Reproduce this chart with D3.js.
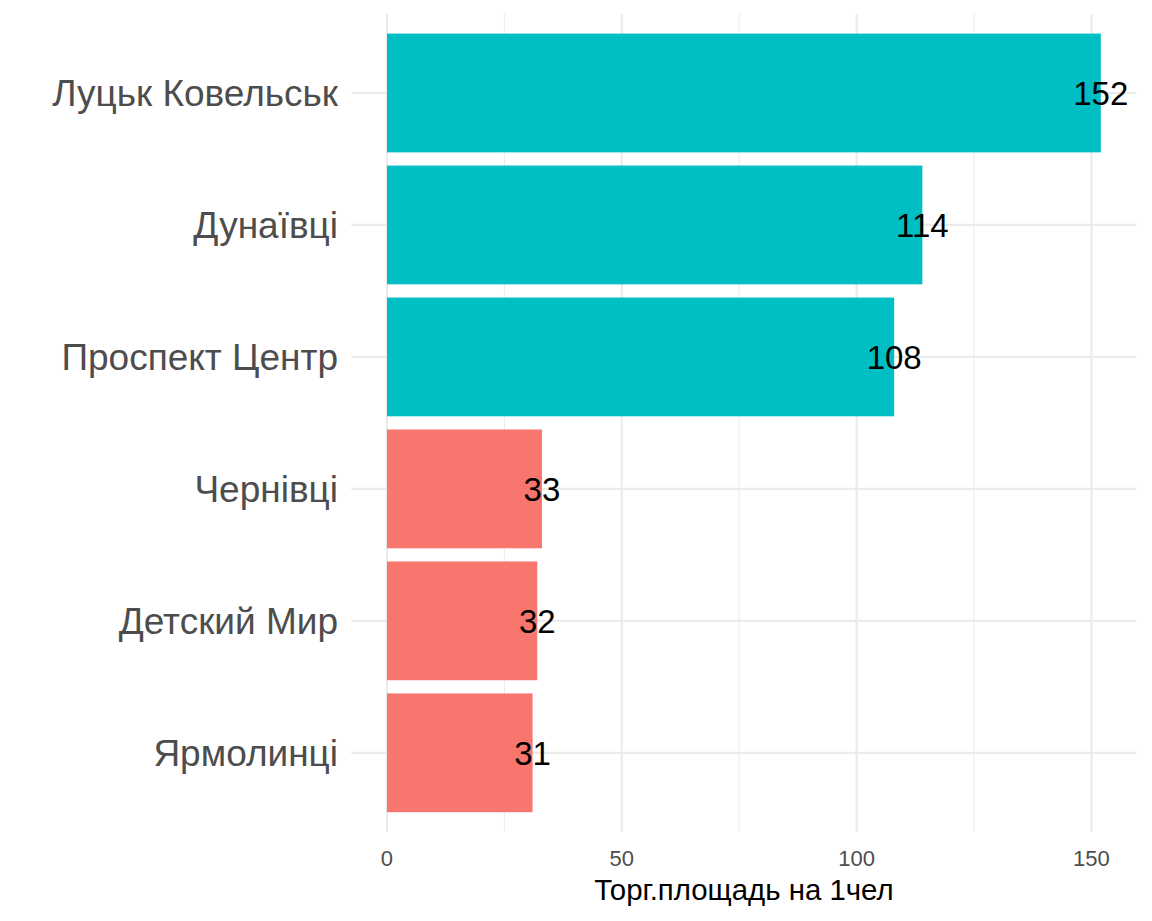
<!DOCTYPE html>
<html><head><meta charset="utf-8">
<script src="https://cdn.jsdelivr.net/npm/d3@7"></script>
<style>body{margin:0;background:#fff}svg{display:block}</style>
</head><body>
<script>
const categories = ["Луцьк Ковельськ","Дунаївці","Проспект Центр","Чернівці","Детский Мир","Ярмолинці"];
const values = [152,114,108,33,32,31];
const groups = ["high","high","high","low","low","low"];
const groupColors = {high:"#00BFC4", low:"#F8766D"};
const xTicks = [0,50,100,150];
const xMinor = [25,75,125];
const xTitle = "Торг.площадь на 1чел";

(function(){
const W=1152,H=921;
const pL=351.3, pR=1136.5, pT=13.8, pB=832;
const svg=d3.select("body").append("svg").attr("width",W).attr("height",H);
const font="'Liberation Sans', Arial, sans-serif";

const x=d3.scaleLinear().domain([-7.6,159.6]).range([pL,pR]);
const y=d3.scaleBand().domain(categories).range([pT,pB]).paddingInner(0.1).paddingOuter(0.15);
const yc=d=>y(d)+y.bandwidth()/2;

const g=svg.append("g");
g.selectAll(".minor").data(xMinor).enter().append("line")
 .attr("x1",d=>x(d)).attr("x2",d=>x(d)).attr("y1",pT).attr("y2",pB)
 .attr("stroke","#EBEBEB").attr("stroke-width",1.1);
g.selectAll(".major").data(xTicks).enter().append("line")
 .attr("x1",d=>x(d)).attr("x2",d=>x(d)).attr("y1",pT).attr("y2",pB)
 .attr("stroke","#EBEBEB").attr("stroke-width",2.2);
g.selectAll(".hg").data(categories).enter().append("line")
 .attr("x1",pL).attr("x2",pR).attr("y1",d=>yc(d)).attr("y2",d=>yc(d))
 .attr("stroke","#EBEBEB").attr("stroke-width",2.2);

g.selectAll(".bar").data(categories).enter().append("rect")
 .attr("x",x(0)).attr("y",d=>y(d))
 .attr("width",(d,i)=>x(values[i])-x(0)).attr("height",y.bandwidth())
 .attr("fill",(d,i)=>groupColors[groups[i]]);

g.selectAll(".lab").data(categories).enter().append("text")
 .attr("x",(d,i)=>x(values[i])).attr("y",d=>yc(d))
 .attr("dy","0.36em").attr("text-anchor","middle")
 .attr("font-family",font).attr("font-size",33).attr("fill","#000")
 .text((d,i)=>values[i]);

g.selectAll(".yl").data(categories).enter().append("text")
 .attr("x",338).attr("y",d=>yc(d)).attr("dy","0.36em").attr("text-anchor","end")
 .attr("font-family",font).attr("font-size",37).attr("fill","#4D4D4D")
 .text(d=>d);

g.selectAll(".xl").data(xTicks).enter().append("text")
 .attr("x",d=>x(d)).attr("y",866).attr("text-anchor","middle")
 .attr("font-family",font).attr("font-size",22).attr("fill","#4D4D4D")
 .text(d=>d);

svg.append("text").attr("x",(pL+pR)/2).attr("y",900).attr("text-anchor","middle")
 .attr("font-family",font).attr("font-size",29.4).attr("fill","#000").text(xTitle);
})();
</script>
</body></html>
